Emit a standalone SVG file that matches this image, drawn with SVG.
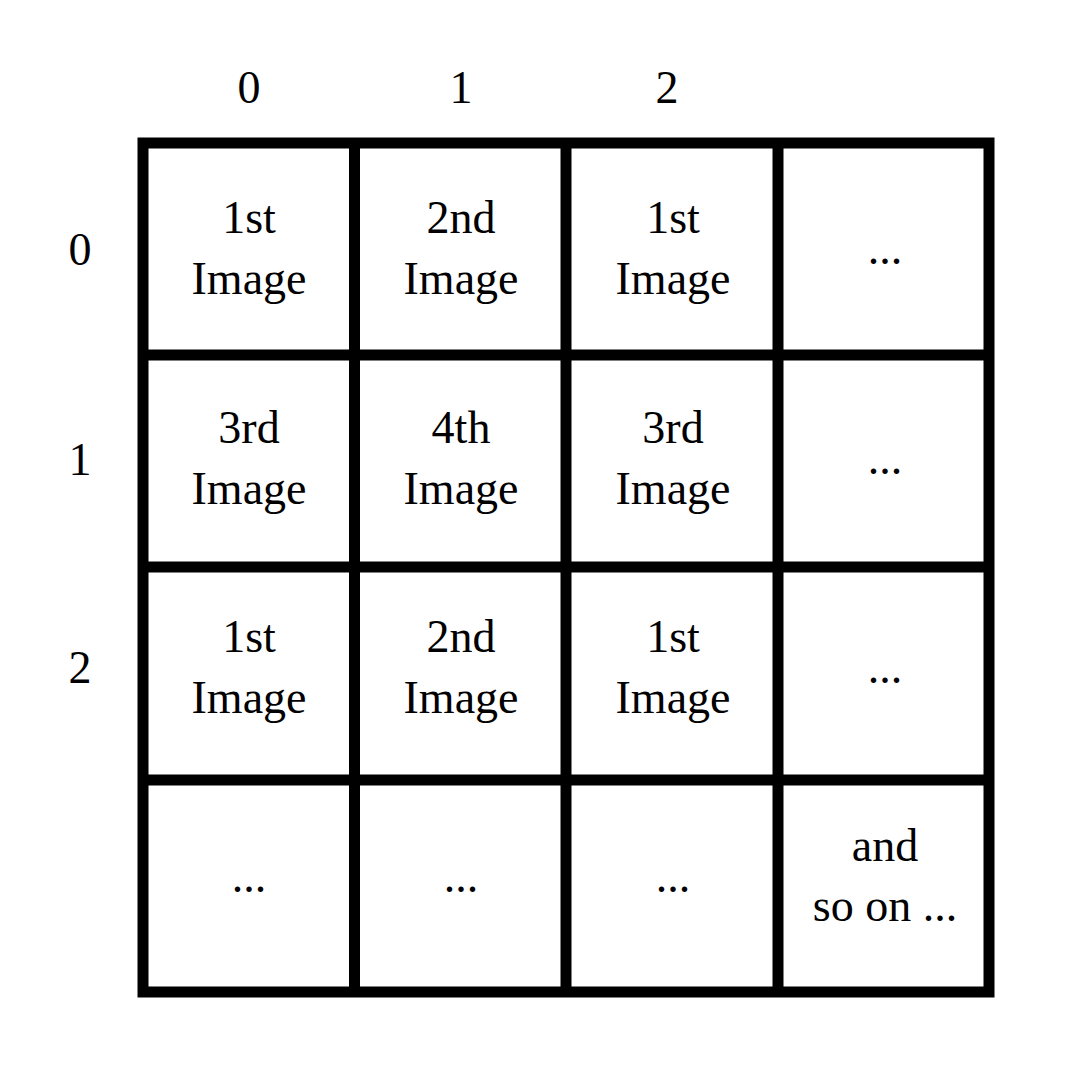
<svg xmlns="http://www.w3.org/2000/svg" width="1080" height="1080" viewBox="0 0 1080 1080">
<style>
text{font-family:"Liberation Serif","Times New Roman",serif;font-size:46px;fill:#000;text-anchor:middle}
.g{stroke:#000;stroke-width:11;fill:none}
</style>
<rect width="1080" height="1080" fill="#fff"/>
<g id="grid">
<rect class="g" x="143" y="143" width="846" height="849"/>
<line class="g" x1="354.5" y1="143" x2="354.5" y2="992"/>
<line class="g" x1="566" y1="143" x2="566" y2="992"/>
<line class="g" x1="778" y1="143" x2="778" y2="992"/>
<line class="g" x1="143" y1="355" x2="989" y2="355"/>
<line class="g" x1="143" y1="567" x2="989" y2="567"/>
<line class="g" x1="143" y1="780" x2="989" y2="780"/>
</g>
<g id="col-labels">
<text x="249" y="103">0</text>
<text x="461" y="103">1</text>
<text x="667" y="103">2</text>
</g>
<g id="row-labels">
<text x="80" y="265">0</text>
<text x="80" y="475">1</text>
<text x="80" y="683">2</text>
</g>
<g id="r0c0"><text x="249" y="233">1st</text><text x="249" y="294">Image</text></g>
<g id="r0c1"><text x="461" y="233">2nd</text><text x="461" y="294">Image</text></g>
<g id="r0c2"><text x="673" y="233">1st</text><text x="673" y="294">Image</text></g>
<g id="r0c3"><text x="885" y="264">...</text></g>
<g id="r1c0"><text x="249" y="443">3rd</text><text x="249" y="504">Image</text></g>
<g id="r1c1"><text x="461" y="443">4th</text><text x="461" y="504">Image</text></g>
<g id="r1c2"><text x="673" y="443">3rd</text><text x="673" y="504">Image</text></g>
<g id="r1c3"><text x="885" y="474">...</text></g>
<g id="r2c0"><text x="249" y="652">1st</text><text x="249" y="713">Image</text></g>
<g id="r2c1"><text x="461" y="652">2nd</text><text x="461" y="713">Image</text></g>
<g id="r2c2"><text x="673" y="652">1st</text><text x="673" y="713">Image</text></g>
<g id="r2c3"><text x="885" y="683">...</text></g>
<g id="r3c0"><text x="249" y="892">...</text></g>
<g id="r3c1"><text x="461" y="892">...</text></g>
<g id="r3c2"><text x="673" y="892">...</text></g>
<g id="r3c3"><text x="885" y="861">and</text><text x="885" y="921">so on ...</text></g>
</svg>
